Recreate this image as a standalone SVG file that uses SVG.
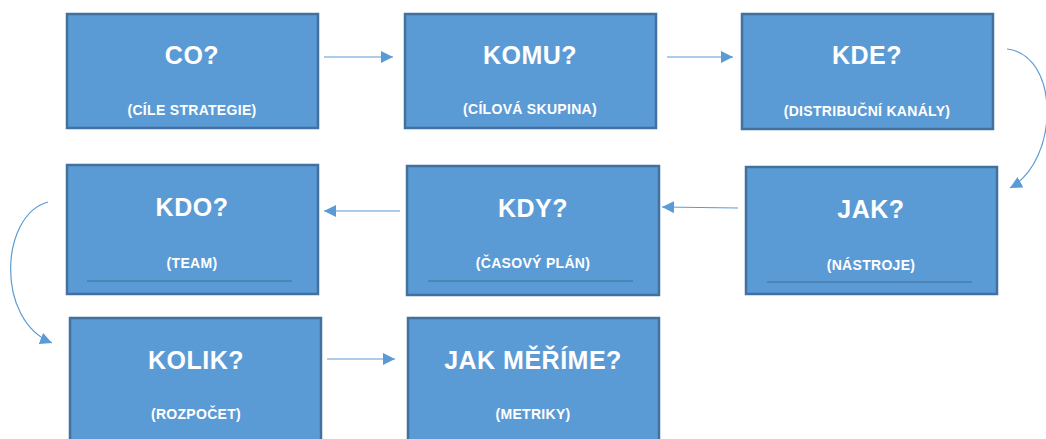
<svg xmlns="http://www.w3.org/2000/svg" width="1046" height="439" viewBox="0 0 1046 439">
<style>
.box{fill:#5B9BD5;stroke:#41719C;stroke-width:2.5}
.t{font-family:"Liberation Sans",Arial,sans-serif;font-weight:bold;fill:#fff;text-anchor:middle}
.h{font-size:25px;letter-spacing:0.5px}
.s{font-size:14px;letter-spacing:0.3px}
.c{fill:none;stroke:#5B9BD5;stroke-width:1.2}
.u{stroke:#3E6E9A;stroke-width:1}
</style>
<defs>
<marker id="a" viewBox="0 0 10 10" refX="10" refY="5" markerWidth="12" markerHeight="12" markerUnits="userSpaceOnUse" orient="auto"><path d="M0,0L10,5L0,10z" fill="#5B9BD5"/></marker>
</defs>
<rect width="1046" height="439" fill="#fff"/>
<g id="n1"><rect class="box" x="67" y="14" width="251" height="114"/><text class="t h" x="192" y="64">CO?</text><text class="t s" x="192" y="115">(CÍLE STRATEGIE)</text></g>
<g id="n2"><rect class="box" x="405" y="14" width="251" height="114"/><text class="t h" x="530" y="64">KOMU?</text><text class="t s" x="530" y="114">(CÍLOVÁ SKUPINA)</text></g>
<g id="n3"><rect class="box" x="742" y="14" width="251" height="115"/><text class="t h" x="867" y="64">KDE?</text><text class="t s" x="867" y="116">(DISTRIBUČNÍ KANÁLY)</text></g>
<g id="n4"><rect class="box" x="746" y="167" width="251" height="127"/><text class="t h" x="871" y="218">JAK?</text><text class="t s" x="871" y="270">(NÁSTROJE)</text><line class="u" x1="767" y1="282" x2="972" y2="282"/></g>
<g id="n5"><rect class="box" x="407" y="166" width="252" height="129"/><text class="t h" x="533" y="217">KDY?</text><text class="t s" x="533" y="268">(ČASOVÝ PLÁN)</text><line class="u" x1="428" y1="281" x2="633" y2="281"/></g>
<g id="n6"><rect class="box" x="67" y="165" width="251" height="129"/><text class="t h" x="192" y="216">KDO?</text><text class="t s" x="192" y="268">(TEAM)</text><line class="u" x1="87" y1="281" x2="292" y2="281"/></g>
<g id="n7"><rect class="box" x="70" y="318" width="251" height="130"/><text class="t h" x="196" y="369">KOLIK?</text><text class="t s" x="196" y="419">(ROZPOČET)</text></g>
<g id="n8"><rect class="box" x="408" y="318" width="251" height="130"/><text class="t h" x="533" y="369">JAK MĚŘÍME?</text><text class="t s" x="533" y="419">(METRIKY)</text></g>
<g id="connectors">
<line class="c" x1="324" y1="57" x2="393" y2="57" marker-end="url(#a)"/>
<line class="c" x1="667" y1="57" x2="733" y2="57" marker-end="url(#a)"/>
<path class="c" d="M1007,49 C1060,55 1060,160 1010,188" marker-end="url(#a)"/>
<line class="c" x1="738" y1="208" x2="662" y2="207" marker-end="url(#a)"/>
<line class="c" x1="400" y1="211" x2="324" y2="211" marker-end="url(#a)"/>
<path class="c" d="M48,202 C0,215 -5,320 52,343" marker-end="url(#a)"/>
<line class="c" x1="327" y1="359" x2="395" y2="359" marker-end="url(#a)"/>
</g>
</svg>
